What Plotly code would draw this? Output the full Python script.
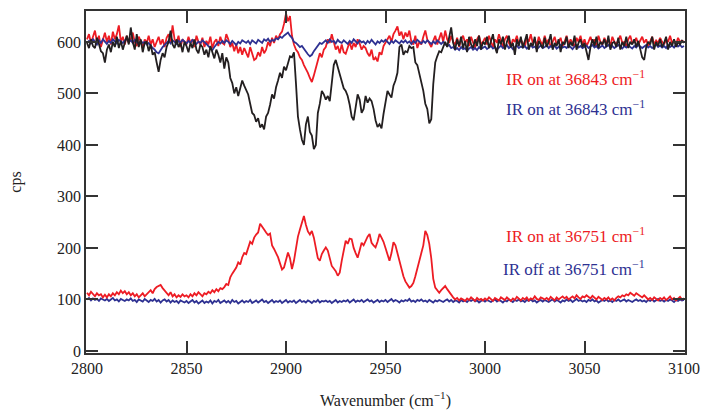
import plotly.graph_objects as go

# x grid (cm^-1), every 1 cm^-1 from 2800 to 3100
wavenumber = list(range(2800, 3101))

# Upper traces (~600 cps baseline)
upper_black = [
    598, 588, 605, 592, 588, 608, 596, 582, 578, 560,
    585, 595, 580, 600, 590, 610, 588, 602, 585, 600,
    612, 595, 628, 600, 585, 615, 590, 605, 580, 598,
    600, 582, 595, 575, 580, 560, 542, 565, 578, 570,
    590, 600, 622, 595, 588, 605, 590, 598, 580, 600,
    592, 580, 598, 588, 605, 585, 578, 595, 590, 575,
    585, 570, 592, 580, 568, 585, 575, 560, 578, 548,
    570, 560, 530, 520, 500, 512, 495, 510, 525, 515,
    505, 498, 480, 462, 458, 445, 452, 434, 440, 430,
    455, 462, 478, 498, 490, 512, 525, 540, 530, 552,
    545, 560, 572, 570, 580, 520, 455, 430, 410, 400,
    440, 455, 425, 418, 392, 400, 462, 480, 505, 498,
    488, 495, 485, 520, 555, 565, 550, 540, 520, 510,
    505, 495, 478, 455, 448, 470, 498, 488, 462, 470,
    495, 482, 490, 485, 470, 448, 435, 440, 432, 460,
    485, 505, 498, 492, 515, 525, 540, 590, 595, 575,
    582, 580, 592, 588, 590, 560, 555, 538, 525, 505,
    480, 470, 442, 450, 518, 560, 572, 582, 580, 592,
    600, 590, 608, 628, 598, 585, 605, 592, 610, 588,
    602, 580, 610, 595, 588, 605, 592, 612, 585, 600,
    595, 610, 588, 602, 615, 590, 578, 605, 595, 610,
    585, 600, 612, 590, 598, 575, 605, 592, 610, 588,
    600, 615, 585, 598, 592, 610, 580, 602, 595, 588,
    608, 590, 600, 615, 585, 598, 592, 605, 580, 600,
    595, 610, 588, 600, 592, 612, 585, 598, 605, 590,
    598, 582, 565, 590, 605, 592, 610, 588, 600, 595,
    605, 590, 612, 585, 598, 600, 590, 608, 585, 600,
    592, 610, 588, 600, 595, 605, 590, 602, 585, 570,
    565, 590, 600, 595, 610, 585, 600, 592, 605, 590,
    598, 610, 585, 600, 592, 605, 590, 600, 595, 602,
    598,
]

upper_red = [
    605, 615, 598, 610, 622, 600, 612, 590, 605, 618,
    600, 612, 595, 620, 605, 615, 632, 600, 610, 595,
    612, 598, 605, 618, 600, 592, 610, 602, 588, 605,
    598, 612, 595, 605, 590, 600, 610, 595, 605, 590,
    608, 615, 600, 632, 605, 598, 612, 590, 605, 600,
    595, 610, 598, 605, 590, 612, 600, 595, 608, 590,
    602, 595, 610, 588, 600, 605, 592, 610, 598, 595,
    615, 605, 590, 598, 582, 595, 578, 590, 575, 588,
    580, 570, 590, 575, 565, 568, 580, 572, 590, 578,
    585, 600, 592, 608, 598, 612, 605, 615, 620, 635,
    655, 640, 650, 612, 595, 585, 580, 570, 565, 555,
    548, 540, 530, 522, 535, 548, 565, 578, 570, 585,
    590, 605, 598, 615, 600, 585, 592, 578, 595, 580,
    577, 590, 600, 585, 598, 590, 605, 597, 585, 592,
    588, 578, 572, 585, 565, 570, 562, 580, 575, 592,
    598, 605, 612, 600, 615, 622, 630, 612, 620, 605,
    618, 610, 622, 600, 595, 612, 588, 600, 595, 610,
    622, 605, 598, 590, 602, 612, 595, 605, 618, 600,
    622, 605, 598, 612, 600, 595, 608, 590, 605, 612,
    598, 605, 592, 610, 600, 588, 605, 612, 595, 600,
    608, 595, 612, 600, 590, 605, 598, 615, 602, 590,
    605, 612, 598, 590, 605, 600, 612, 595, 605, 598,
    590, 608, 600, 615, 598, 605, 592, 610, 600, 595,
    612, 598, 605, 590, 602, 610, 595, 600, 608, 592,
    600, 612, 595, 605, 598, 590, 608, 600, 612, 595,
    605, 592, 600, 610, 598, 605, 590, 612, 600, 595,
    608, 598, 605, 592, 610, 600, 595, 605, 612, 598,
    600, 590, 605, 612, 598, 600, 608, 595, 602, 610,
    598, 605, 592, 600, 610, 595, 603, 598, 608, 600,
    595, 605, 600, 612, 598, 603, 595, 608, 600, 602,
    600,
]

upper_blue = [
    598, 602, 596, 606, 600, 595, 603, 598, 605, 600,
    596, 602, 598, 605, 600, 597, 604, 600, 598, 603,
    606, 600, 603, 598, 604, 600, 596, 602, 598, 600,
    595, 598, 592, 588, 585, 580, 578, 585, 590, 594,
    598, 602, 597, 603, 600, 596, 602, 599, 604, 600,
    597, 602, 598, 604, 600, 596, 601, 598, 603, 600,
    596, 592, 588, 584, 590, 595, 600, 597, 602, 598,
    603, 600, 596, 602, 598, 594, 600, 597, 603, 600,
    598, 602, 596, 603, 600, 597, 604, 600, 598, 605,
    602, 606, 600, 604, 602, 607, 605, 610, 608, 612,
    615, 618, 612, 608, 600, 598, 594, 590, 592, 586,
    582, 576, 572, 575, 582, 588, 594, 598, 596, 600,
    603, 598, 605, 600, 602, 597, 604, 600, 598, 603,
    600, 596, 602, 598, 605, 600, 597, 603, 599, 601,
    596, 602, 598, 604, 600, 595, 601, 598, 603, 600,
    604, 600, 596, 602, 598, 603, 600, 597, 602, 599,
    603, 598, 601, 596, 602, 598, 604, 600, 597, 602,
    598, 603, 600, 596, 601, 597, 603, 599, 596, 600,
    596, 592, 594, 588, 590, 585, 588, 584, 590, 586,
    588, 583, 587, 590, 585, 588, 584, 590, 586, 589,
    591, 586, 589, 592, 587, 590, 585, 589, 593, 588,
    590, 594, 588, 591, 586, 590, 593, 588, 591, 589,
    592, 587, 590, 594, 589, 591, 586, 590, 593, 588,
    590, 594, 588, 592, 589, 593, 587, 590, 594, 589,
    591, 588, 593, 590, 586, 591, 594, 589, 592, 588,
    590, 593, 588, 591, 594, 589, 592, 587, 590, 593,
    588, 591, 594, 589, 592, 588, 591, 594, 590, 587,
    592, 589, 593, 590, 587, 592, 589, 594, 590, 588,
    591, 594, 589, 592, 588, 591, 595, 590, 593, 589,
    592, 588, 594, 590, 593, 589, 596, 591, 594, 590,
    592,
]

# Lower traces (~100 cps baseline)
lower_red = [
    113, 108, 115, 110, 106, 112, 108, 110, 104, 109,
    104, 110, 106, 112, 108, 114, 110, 117, 112, 116,
    110, 114, 108, 112, 106, 110, 104, 108, 112, 106,
    110, 114, 118, 112, 120, 124, 126, 128, 122, 118,
    112, 108, 114, 106, 110, 104, 108, 105, 110, 106,
    108, 104, 110, 106, 112, 108, 114, 110, 106, 112,
    110, 115, 112, 118, 114, 120, 116, 122, 120, 124,
    130, 128, 143, 150, 156, 162, 172, 168, 182, 190,
    188, 200, 212, 208, 220, 226, 230, 247, 240, 236,
    230, 225, 228, 205, 198, 190, 182, 170, 158, 162,
    178, 191, 180, 159, 175, 200, 222, 236, 250, 262,
    245, 232, 226, 233, 220, 198, 180, 175, 188, 195,
    201, 195, 180, 165, 160, 155, 146, 152, 175, 195,
    214, 208, 218, 217, 200, 190, 181, 195, 210, 205,
    215, 222, 227, 210, 205, 201, 212, 227, 220, 212,
    200, 188, 175, 190, 211, 205, 190, 170, 156, 145,
    135, 130, 123, 126, 132, 145, 162, 175, 190, 205,
    233, 225, 208, 180, 140, 123, 118, 113, 118, 122,
    126, 120, 114, 108, 104, 100, 103, 98, 102, 100,
    97, 102, 99, 104, 100, 97, 103, 99, 101, 98,
    102, 99, 104, 100, 97, 103, 100, 98, 104, 101,
    99, 104, 100, 97, 102, 99, 105, 101, 98, 103,
    100, 104, 98, 102, 100, 106, 101, 99, 104, 102,
    100, 103, 99, 105, 102, 98, 104, 100, 103, 106,
    102, 105, 100, 104, 106, 102, 108, 104, 101, 106,
    104, 108, 105, 102, 107, 103, 100, 105, 102, 99,
    103, 100, 104, 99, 102, 98, 103, 106, 104, 108,
    106, 110, 108, 113, 110, 107, 112, 109, 106, 104,
    108, 104, 100, 103, 99, 104, 101, 98, 103, 100,
    104, 99, 102, 106, 100, 103, 98, 102, 105, 100,
    102,
]

lower_blue = [
    100, 103, 98, 102, 99, 101, 97, 102, 100, 98,
    101, 97, 100, 103, 98, 100, 96, 101, 99, 97,
    100, 98, 102, 97, 99, 95, 100, 98, 96, 101,
    98, 95, 99, 97, 101, 96, 99, 94, 98, 100,
    96, 99, 94, 98, 95, 97, 93, 98, 96, 94,
    97, 93, 96, 99, 94, 97, 92, 96, 98, 93,
    96, 94, 98, 92, 97, 95, 99, 93, 96, 98,
    94, 97, 93, 99, 95, 97, 92, 96, 98, 94,
    97, 95, 99, 93, 96, 98, 94, 97, 100, 95,
    97, 93, 96, 99, 94, 97, 95, 98, 93, 96,
    99, 94, 97, 95, 98, 93, 96, 99, 95, 97,
    94, 98, 96, 93, 97, 95, 99, 94, 97, 96,
    98, 95, 97, 93, 96, 99, 94, 97, 95, 98,
    96, 99, 94, 97, 100, 95, 98, 96, 99, 95,
    97, 100, 96, 98, 94, 97, 99, 95, 98, 96,
    99, 95, 98, 101, 96, 99, 97, 94, 98, 96,
    99, 97, 101, 96, 98, 95, 99, 97, 100, 96,
    98, 95, 99, 97, 94, 98, 96, 99, 97, 95,
    98, 100, 96, 99, 95, 98, 97, 94, 99, 96,
    98, 95, 99, 97, 100, 96, 98, 94, 97, 99,
    96, 99, 97, 95, 98, 100, 96, 99, 97, 94,
    98, 96, 100, 97, 95, 99, 97, 100, 96, 98,
    95, 99, 97, 100, 96, 98, 94, 97, 99, 96,
    99, 97, 95, 98, 100, 96, 99, 97, 94, 98,
    96, 100, 97, 99, 95, 98, 101, 97, 99, 96,
    98, 95, 99, 97, 100, 96, 98, 94, 97, 99,
    97, 100, 96, 98, 95, 99, 97, 100, 96, 98,
    100, 96, 99, 97, 95, 98, 100, 97, 99, 96,
    98, 95, 99, 97, 100, 96, 98, 101, 97, 99,
    96, 99, 97, 100, 98, 95, 99, 97, 100, 98,
    99,
]

labels = [
    ("IR on at 36843 cm<sup>−1</sup>", "#ED1C24", 530),
    ("IR on at 36843 cm<sup>−1</sup>", "#2E3192", 472),
    ("IR on at 36751 cm<sup>−1</sup>", "#ED1C24", 225),
    ("IR off at 36751 cm<sup>−1</sup>", "#2E3192", 161),
]

RED = "#ED1C24"
BLUE = "#2E3192"
BLACK = "#231F20"

fig = go.Figure()
for ys, col in [(upper_red, RED), (upper_blue, BLUE), (upper_black, BLACK),
                (lower_blue, BLUE), (lower_red, RED)]:
    fig.add_trace(go.Scatter(x=wavenumber, y=ys, mode="lines",
                             line=dict(color=col, width=1.8), showlegend=False))

for text, col, yv in labels:
    fig.add_annotation(x=3081.5, y=yv, xref="x", yref="y", text=text,
                       showarrow=False, xanchor="right", yanchor="middle",
                       font=dict(family="Liberation Serif", size=17, color=col))

axis_common = dict(
    showline=True, linecolor="#333333", linewidth=1.5, mirror="ticks",
    ticks="inside", ticklen=12, tickwidth=1.5, tickcolor="#333333",
    showgrid=False, zeroline=False, automargin=False,
    tickfont=dict(family="Liberation Serif", size=16, color="#222222"),
)

fig.update_layout(
    width=702, height=410,
    margin=dict(l=86, r=17, t=11, b=57),
    paper_bgcolor="white", plot_bgcolor="white",
    xaxis=dict(range=[2799.5, 3100.5], tickvals=[2800, 2850, 2900, 2950, 3000, 3050, 3100],
               title=dict(text="Wavenumber (cm<sup>−1</sup>)",
                          font=dict(family="Liberation Serif", size=16, color="#222222"),
                          standoff=21),
               **axis_common),
    yaxis=dict(range=[-4, 660], tickvals=[0, 100, 200, 300, 400, 500, 600],
               title=dict(text="cps",
                          font=dict(family="Liberation Serif", size=16, color="#222222"),
                          standoff=31),
               **axis_common),
)

fig.write_html("out.html")
